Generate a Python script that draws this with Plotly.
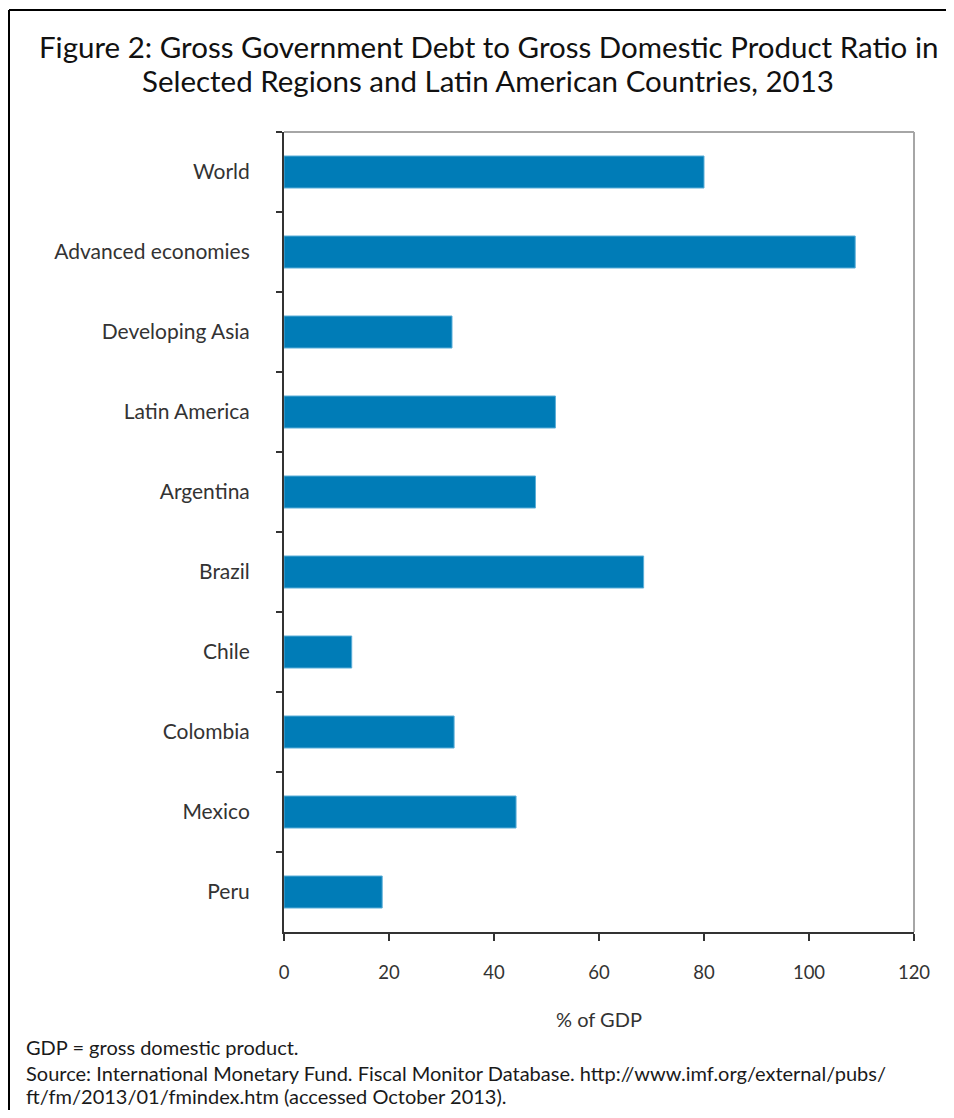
import plotly.graph_objects as go

categories = ["World", "Advanced economies", "Developing Asia", "Latin America",
              "Argentina", "Brazil", "Chile", "Colombia", "Mexico", "Peru"]
values = [80.0, 108.8, 32.0, 51.7, 47.9, 68.5, 12.9, 32.4, 44.2, 18.7]
x_ticks = [0, 20, 40, 60, 80, 100, 120]

title_lines = ["Figure 2: Gross Government Debt to Gross Domestic Product Ratio in",
               "Selected Regions and Latin American Countries, 2013"]
notes = [
    "GDP = gross domestic product.",
    "Source: International Monetary Fund. Fiscal Monitor Database. http://www.imf.org/external/pubs/",
    "ft/fm/2013/01/fmindex.htm (accessed October 2013).",
]

FONT = "Lato"
OFF = 8  # page body margin
W, H = 954 - OFF, 1118 - 2 * OFF
L, R, T, B = 284 - OFF, 914 - OFF, 132 - OFF, 932 - OFF

def px_x(px):
    return (px - OFF - L) / (R - L)

def px_y(py):
    return (B - (py - OFF)) / (B - T)

fig = go.Figure(go.Bar(
    x=values, y=categories, orientation="h", width=0.4,
    marker=dict(color="#007CB7", line=dict(color="#5AAED8", width=1)),
    hoverinfo="x+y",
))

shapes = [
    dict(type="line", xref="x domain", yref="y domain", x0=0, x1=1, y0=1, y1=1,
         line=dict(color="#A6A6A6", width=2), layer="below"),
    dict(type="line", xref="x domain", yref="y domain", x0=1, x1=1, y0=0, y1=1,
         line=dict(color="#A6A6A6", width=2), layer="below"),
    dict(type="line", xref="paper", yref="paper", x0=px_x(9), x1=px_x(OFF + W),
         y0=px_y(10), y1=px_y(10), line=dict(color="#000000", width=2)),
    dict(type="line", xref="paper", yref="paper", x0=px_x(9), x1=px_x(9),
         y0=px_y(10), y1=px_y(OFF + H), line=dict(color="#000000", width=2)),
]

annotations = []
for txt, py in zip(title_lines, [46, 80]):
    annotations.append(dict(
        text=txt, xref="paper", yref="paper", x=px_x(488), y=px_y(py),
        xanchor="center", yanchor="middle", showarrow=False,
        font=dict(family=FONT, size=29.5, color="#111111"),
    ))
for txt, py in zip(notes, [1047, 1073, 1096]):
    annotations.append(dict(
        text=txt, xref="paper", yref="paper", x=px_x(24), y=px_y(py),
        xanchor="left", yanchor="middle", showarrow=False,
        font=dict(family=FONT, size=20, color="#1a1a1a"),
    ))

fig.update_layout(
    width=W, height=H,
    margin=dict(l=L, r=W - R, t=T, b=H - B, pad=0),
    paper_bgcolor="white", plot_bgcolor="white",
    showlegend=False,
    font=dict(family=FONT, color="#333333"),
    shapes=shapes,
    annotations=annotations,
)

fig.update_xaxes(
    range=[0, 120], tickvals=x_ticks, ticktext=[str(v) for v in x_ticks],
    showgrid=False, zeroline=False,
    showline=True, linecolor="#333333", linewidth=2,
    ticks="outside", ticklen=7, tickwidth=2, tickcolor="#333333",
    ticklabelstandoff=16,
    tickfont=dict(family=FONT, size=18.5, color="#333333"),
    title=dict(text="% of GDP", standoff=31,
               font=dict(family=FONT, size=20, color="#333333")),
    fixedrange=True,
)

fig.update_yaxes(
    categoryorder="array", categoryarray=categories, autorange="reversed",
    tickson="boundaries",
    showgrid=False, zeroline=False,
    showline=True, linecolor="#333333", linewidth=2,
    ticks="outside", ticklen=6, tickwidth=2, tickcolor="#333333",
    ticklabelstandoff=28,
    tickfont=dict(family=FONT, size=21, color="#333333"),
    fixedrange=True,
)

fig.write_html("out.html")
